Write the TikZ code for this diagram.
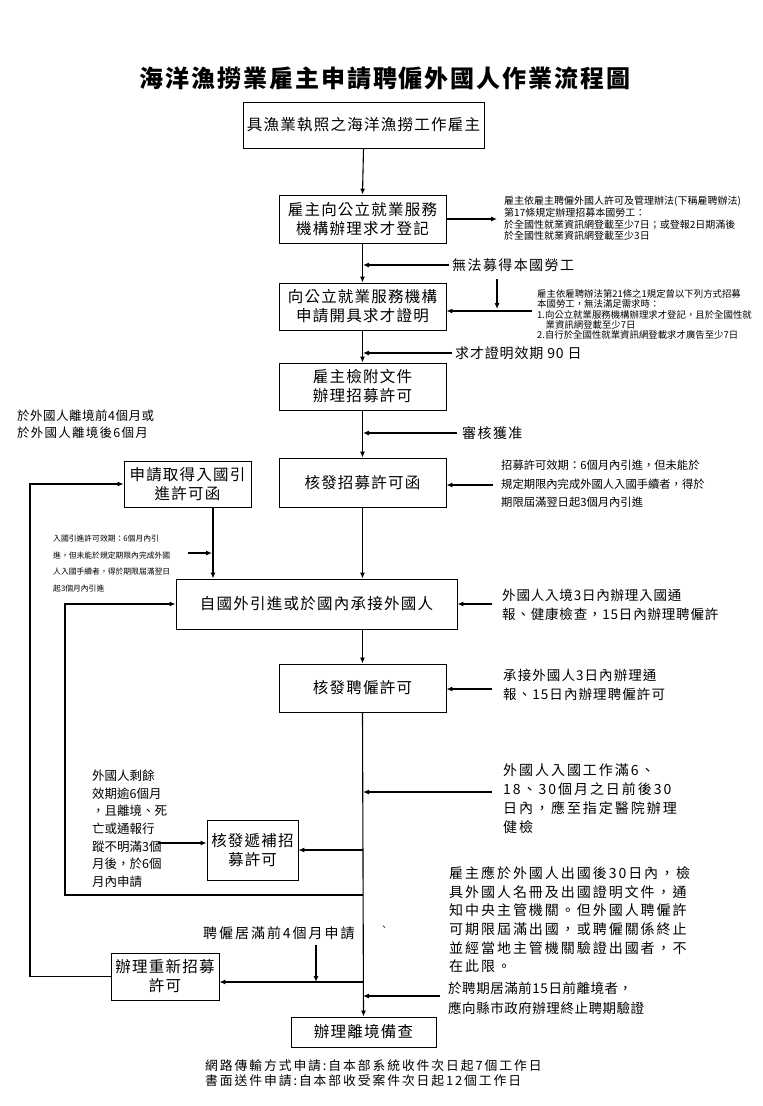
\documentclass[tikz,border=0pt]{standalone}
\usepackage{fontspec}
\setmainfont{Noto Sans CJK TC}
\usetikzlibrary{arrows.meta}
\newcommand\fsz[2]{\fontsize{#1}{#2}\selectfont}
\newcommand\lsp[1]{\addfontfeatures{LetterSpace=#1}}
\begin{document}
\begin{tikzpicture}[x=1pt,y=-1pt,
 box/.style={draw,line width=0.9pt,inner sep=0pt,align=center,font=\fsz{15.5}{19}\lsp{8}},
 ln/.style={line width=1.1pt},
 arr/.style={ln,-{Latex[length=6pt,width=5pt]}},
 note/.style={inner sep=0pt,anchor=north west,align=left},
 lab/.style={inner sep=0pt,anchor=west}]
\useasboundingbox (0,0) rectangle (763,1106);
\fill[white] (0,0) rectangle (763,1106);

\node[font=\fsz{24}{28}\bfseries\lsp{8}] (title) at (385,78) {海洋漁撈業雇主申請聘僱外國人作業流程圖};

% main boxes
\node[box,minimum width=241pt,minimum height=46pt] (b1) at (363.5,125) {具漁業執照之海洋漁撈工作雇主};
\node[box,minimum width=167pt,minimum height=48pt] (b2) at (362.5,219) {雇主向公立就業服務\\機構辦理求才登記};
\node[box,minimum width=167pt,minimum height=47pt] (b3) at (362.5,306.5) {向公立就業服務機構\\申請開具求才證明};
\node[box,minimum width=167pt,minimum height=47pt] (b4) at (362.5,386.5) {雇主檢附文件\\辦理招募許可};
\node[box,minimum width=167pt,minimum height=49pt] (b5) at (362.5,482.5) {核發招募許可函};
\node[box,minimum width=281pt,minimum height=50pt] (b6) at (316.5,604) {自國外引進或於國內承接外國人};
\node[box,minimum width=167pt,minimum height=48pt] (b7) at (362.5,688) {核發聘僱許可};
\node[box,minimum width=145pt,minimum height=30pt] (b8) at (363.5,1032) {辦理離境備查};
% side boxes
\node[box,minimum width=127pt,minimum height=46pt] (bL1) at (187.5,484) {申請取得入國引\\進許可函};
\node[box,minimum width=91pt,minimum height=60pt] (bL2) at (252.5,850) {核發遞補招\\募許可};
\node[box,minimum width=108pt,minimum height=47pt] (bL3) at (165,976.5) {辦理重新招募\\許可};

% notes
\node[note,font=\fsz{10}{11.7}] (n1) at (504,196) {雇主依雇主聘僱外國人許可及管理辦法(下稱雇聘辦法)\\第17條規定辦理招募本國勞工：\\於全國性就業資訊網登載至少7日；或登報2日期滿後\\於全國性就業資訊網登載至少3日};
\node[note,font=\fsz{9.4}{10.2}] (n2) at (537,289.5) {雇主依雇聘辦法第21條之1規定曾以下列方式招募\\本國勞工，無法滿足需求時：\\1.向公立就業服務機構辦理求才登記，且於全國性就\\\hspace*{0.9em}業資訊網登載至少7日\\2.自行於全國性就業資訊網登載求才廣告至少7日};
\node[lab,font=\fsz{14}{16}\lsp{10}] (l1) at (452,265) {無法募得本國勞工};
\node[lab,font=\fsz{14}{16}\lsp{6}] (l2) at (455,353) {求才證明效期 90 日};
\node[lab,font=\fsz{14}{16}\lsp{10}] (l3) at (462,433) {審核獲准};
\node[note,font=\fsz{11.3}{18.5}] (n3) at (501,460) {招募許可效期：6個月內引進，但未能於\\規定期限內完成外國人入國手續者，得於\\期限屆滿翌日起3個月內引進};
\node[note,font=\fsz{12.5}{17}\lsp{4}] (n0) at (17,410) {於外國人離境前4個月或\\{\lsp{10}於外國人離境後6個月}};
\node[note,font=\fsz{7.8}{16.8}] (n4) at (53,534.5) {入國引進許可效期：6個月內引\\進，但未能於規定期限內完成外國\\人入國手續者，得於期限屆滿翌日\\起3個月內引進};
\node[note,font=\fsz{13.5}{18.5}\lsp{6}] (n5) at (502,589) {外國人入境3日內辦理入國通\\報、健康檢查，15日內辦理聘僱許};
\node[note,font=\fsz{13.5}{18.5}\lsp{8}] (n6) at (503,669) {承接外國人3日內辦理通\\報、15日內辦理聘僱許可};
\node[note,font=\fsz{14}{19}\lsp{14}] (n7) at (503,763.5) {外國人入國工作滿6、\\18、30個月之日前後30\\日內，應至指定醫院辦理\\健檢};
\node[note,font=\fsz{12.5}{17.7}] (n8) at (92,769.5) {外國人剩餘\\效期逾6個月\\，且離境、死\\亡或通報行\\蹤不明滿3個\\月後，於6個\\月內申請};
\node[note,font=\fsz{14}{18.6}\lsp{14}] (n9) at (449,866.5) {雇主應於外國人出國後30日內，檢\\具外國人名冊及出國證明文件，通\\知中央主管機關。但外國人聘僱許\\可期限屆滿出國，或聘僱關係終止\\並經當地主管機關驗證出國者，不\\在此限。};
\node[lab,font=\fsz{14}{16}\lsp{14}] (l4) at (203,933) {聘僱居滿前4個月申請};
\node[inner sep=0pt,font=\fsz{9}{10}] (tick) at (384,928) {、};
\node[note,font=\fsz{13.5}{20}\lsp{4}] (n10) at (448,981.5) {於聘期居滿前15日前離境者，\\應向縣市政府辦理終止聘期驗證};
\node[note,font=\fsz{12.8}{15}\lsp{15}] (n11) at (205,1059) {網路傳輸方式申請:自本部系統收件次日起7個工作日\\書面送件申請:自本部收受案件次日起12個工作日};

% coordinates
\coordinate (m1) at (363,265);
\coordinate (m2) at (363,353);
\coordinate (m3) at (363,433);
\coordinate (m4) at (363,792);
\coordinate (m5) at (363,850);
\coordinate (m6) at (363,895);
\coordinate (m7) at (363,982);
\coordinate (m8) at (363,996);
\coordinate (n1a) at (497,219);
\coordinate (d1) at (497,279);
\coordinate (d2) at (497,309);
\coordinate (n2a) at (532,311);
\coordinate (n3a) at (493,485);
\coordinate (n5a) at (492,604);
\coordinate (n6a) at (492,689);
\coordinate (n7a) at (492,792);
\coordinate (q1) at (213,507);
\coordinate (q2) at (188,553);
\coordinate (q3) at (158,843);
\coordinate (q4) at (316,945);
\coordinate (q5) at (440,996);
\coordinate (r2) at (65,895);
\coordinate (r3) at (30,976.5);

% main flow
\draw[arr] (b1.south) -- (b2.north);
\draw[arr] (b2.south) -- (b3.north);
\draw[arr] (b3.south) -- (b4.north);
\draw[arr] (b4.south) -- (b5.north);
\draw[arr] (b5.south) -- (b5.south |- b6.north);
\draw[arr] (b6.south -| b7.south) -- (b7.north);
\draw[arr] (b7.south) -- (b8.north);

% side arrows
\draw[arr] (b2.east) -- (n1a);
\draw[arr] ([xshift=-3pt]l1.west) -- (m1);
\draw[arr] (d1) -- (d2);
\draw[arr] (n2a) -- (n2a -| b3.east);
\draw[arr] ([xshift=-3pt]l2.west) -- (m2);
\draw[arr] ([xshift=-5pt]l3.west) -- (m3);
\draw[arr] (n3a) -- (n3a -| b5.east);
\draw[arr] (q1) -- (q1 |- b6.north);
\draw[arr] (q2) -- ([xshift=-1pt]q2 -| q1);
\draw[arr] (n5a) -- (b6.east);
\draw[arr] (n6a) -- (n6a -| b7.east);
\draw[arr] (n7a) -- (m4);
\draw[arr] (m5) -- (bL2.east);
\draw[arr] (q3) -- (q3 -| bL2.west);
\draw[arr] (m6) -- (r2) |- (b6.west);
\draw[arr] (q4) -- (q4 |- m7);
\draw[arr] (m7) -- (m7 -| bL3.east);
\draw[arr] (q5) -- (m8);
\draw[arr] (bL3.west) -- (r3) |- (bL1.west);
\end{tikzpicture}
\end{document}
